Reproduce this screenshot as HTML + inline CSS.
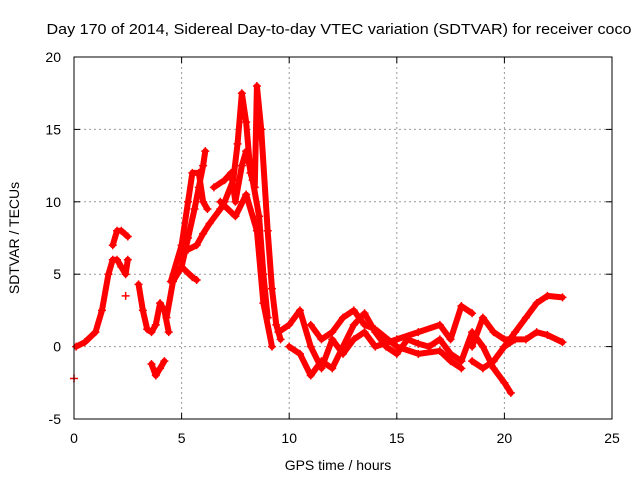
<!DOCTYPE html>
<html><head><meta charset="utf-8"><style>
body{margin:0;background:#fff}
svg{display:block;font-family:"Liberation Sans",sans-serif}
</style></head><body>
<svg id="chart" width="640" height="480">
<text x="339" y="34" font-size="15" text-anchor="middle" textLength="585" lengthAdjust="spacingAndGlyphs">Day 170 of 2014, Sidereal Day-to-day VTEC variation (SDTVAR) for receiver coco</text>
<text x="338" y="470" font-size="14" text-anchor="middle">GPS time / hours</text>
<text x="19" y="238" font-size="14" text-anchor="middle" transform="rotate(-90 19 238)">SDTVAR / TECUs</text>
<g id="grid"></g><g id="ticks"></g><g id="marks"></g>
<rect x="74" y="57" width="538" height="362" fill="none" stroke="#000"/>
</svg>
<script>
const xTicks=[0,5,10,15,20,25];
const yTicks=[-5,0,5,10,15,20];
const traceA=[[0.1,0],[0.5,0.3],[1,1],[1.3,2.5],[1.6,5],[1.8,6],[2,6],[2.2,5.5],[2.4,5],[2.5,6]];
const traceB=[[1.8,7],[2,8],[2.2,8],[2.5,7.6]];
const traceC=[[3.0,4.3],[3.2,2.5],[3.4,1.2],[3.6,1],[3.8,1.5],[4,3],[4.2,2.5],[4.4,1]];
const traceDip=[[3.6,-1.2],[3.8,-2],[4,-1.5],[4.2,-1]];
const traceD=[[4.3,2],[4.6,4.5],[5,5.5],[5.3,7.5],[5.6,9.5],[5.8,11],[6,12.5],[6.1,13.5]];
const traceE=[[4.5,4.5],[5,7],[5.3,10],[5.5,12],[5.8,12],[6,10],[6.2,9.5]];
const traceLow=[[5,5.5],[5.5,4.8],[5.7,4.6]];
const traceF=[[5.3,6.7],[5.7,7],[6,7.8],[6.3,8.5],[6.8,9.5],[7,10],[7.4,11.5],[7.6,14],[7.8,17.5],[8,15.5],[8.2,12],[8.4,11],[8.5,18],[8.7,15],[9,8],[9.2,4],[9.4,1.5],[9.6,0.5]];
const traceP=[[6.5,11],[7,11.5],[7.3,12],[7.5,10],[7.8,12.5],[8,13.5],[8.3,11.5],[8.6,9],[8.8,5],[9,2]];
const traceQ=[[6.8,10],[7.5,9],[8,10.5],[8.5,8],[8.8,3],[9.2,0]];
const traceG=[[9.5,1],[10,1.5],[10.5,2.5],[11,0],[11.5,-1.5],[12,0.5],[12.5,-0.5],[13,0.5],[13.5,1],[14,0],[15,0.5],[16,1],[17,1.5],[17.5,0.5],[18,2.8],[18.5,2.3]];
const traceH=[[10,0],[10.5,-0.5],[11,-2],[11.5,-1],[12,-1.5],[12.5,0],[13,1.5],[13.5,2.3],[14,1],[14.5,0],[15,-0.5],[15.5,0.5],[16,0.2],[16.5,0],[17,0.5],[17.5,-0.5],[18,-1],[18.5,1],[19,0],[19.5,-1.5],[20,-2.5],[20.3,-3.2]];
const traceI=[[11,1.5],[11.5,0.5],[12,1],[12.5,2],[13,2.5],[13.5,1.5],[14,1.2],[15,0],[16,-0.5],[17,-0.3],[17.5,-1],[18,-1.5]];
const traceJ=[[18.5,0],[19,2],[19.5,1],[20,0.5],[21,0.5],[21.5,1],[22,0.8],[22.7,0.3]];
const traceK=[[20,0],[20.5,1],[21,2],[21.5,3],[22,3.5],[22.7,3.4]];
const traceL=[[18.5,-1],[19,-1.5],[19.5,-1],[20,0],[20.5,0.5]];
const singles=[[0,-2.2],[2.4,3.5]];
const traces=[traceA,traceB,traceC,traceDip,traceD,traceE,traceLow,traceF,traceP,traceQ,traceG,traceH,traceI,traceJ,traceK,traceL];

const X0=74,X1=612,Y0=419,Y1=57;
const sx=v=>X0+(v-0)/(25-0)*(X1-X0);
const sy=v=>Y0-(v+5)/(25)*(Y0-Y1);
const NS="http://www.w3.org/2000/svg";
const grid=document.getElementById('grid'),ticks=document.getElementById('ticks'),marks=document.getElementById('marks');
function mk(tag,attrs,parent){const e=document.createElementNS(NS,tag);for(const k in attrs)e.setAttribute(k,attrs[k]);parent.appendChild(e);return e;}
xTicks.forEach(t=>{
  const x=sx(t);
  if(t>0&&t<25){const g=mk('line',{x1:x,x2:x,y1:Y0,y2:Y1,stroke:'#999','stroke-dasharray':'2,3'},grid);
  
  }
  mk('line',{x1:x,x2:x,y1:Y0,y2:Y0-6,stroke:'#000'},ticks);
  mk('line',{x1:x,x2:x,y1:Y1,y2:Y1+6,stroke:'#000'},ticks);
  const l=mk('text',{x:x,y:443,'font-size':14,'text-anchor':'middle'},ticks);l.textContent=t;
  
  
});
yTicks.forEach(t=>{
  const y=sy(t);
  if(t>-5&&t<20){const g=mk('line',{x1:X0,x2:X1,y1:y,y2:y,stroke:'#999','stroke-dasharray':'2,3'},grid);
  
  }
  mk('line',{x1:X0,x2:X0+6,y1:y,y2:y,stroke:'#000'},ticks);
  mk('line',{x1:X1,x2:X1-6,y1:y,y2:y,stroke:'#000'},ticks);
  const l=mk('text',{x:61,y:y+5,'font-size':14,'text-anchor':'end'},ticks);l.textContent=t;
  
  
});
function plus(v,parent){
  const x=sx(v[0]),y=sy(v[1]);
  const p=mk('path',{d:`M${x-4},${y}h8M${x},${y-4}v8`,stroke:'#f00','stroke-width':1.5},parent);
  
  
}
traces.forEach((tr,i)=>{
  const g=mk('g',{},marks);
  
  
  const pl=mk('polyline',{points:tr.map(v=>sx(v[0])+','+sy(v[1])).join(' '),fill:'none',stroke:'#f00','stroke-width':6,'stroke-linejoin':'round','stroke-linecap':'round'},g);
  
  
  tr.forEach(v=>plus(v,g));
});
singles.forEach(v=>plus(v,marks));
</script>
</body></html>
